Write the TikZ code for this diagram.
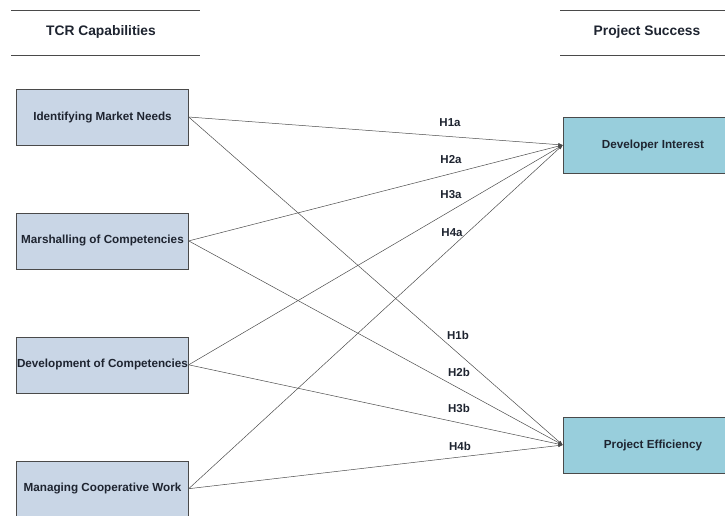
\documentclass[tikz,border=0pt]{standalone}
\usepackage{fontspec}
\setmainfont{Liberation Sans}
\usetikzlibrary{arrows.meta,positioning}
\definecolor{tcrFill}{HTML}{C9D6E6}
\definecolor{psFill}{HTML}{98CEDC}
\definecolor{tcrLine}{HTML}{4A4A4A}
\definecolor{tcrText}{HTML}{1E2430}

\begin{document}
\begin{tikzpicture}[x=1pt, y=-1pt, node distance=67.5pt,
  capbox/.style={draw=tcrLine, fill=tcrFill, minimum width=172pt, minimum height=56pt, inner sep=0pt, text=tcrText, font=\bfseries\fontsize{11.7}{14}\selectfont},
  outbox/.style={capbox, fill=psFill, minimum width=180pt},
  head/.style={text=tcrText, font=\bfseries\fontsize{13.8}{16}\selectfont},
  hyp/.style={text=tcrText, font=\bfseries\fontsize{11.5}{13}\selectfont},
  rule/.style={draw=tcrLine, line width=0.6pt},
  arr/.style={-{Latex[length=4.5pt, width=3.5pt]}, line width=0.5pt, color=black!70}
]
  \useasboundingbox (0,0) rectangle (725,515);
  \clip (0,0) rectangle (725,515);

  % headings
  \node[head] (tcr) at (101,32) {TCR Capabilities};
  \node[head] (ps) at (647,32) {Project Success};
  \path[rule] (11,10) -- (200,10) (11,55) -- (200,55);
  \path[rule] (560,10) -- (725,10) (560,55) -- (725,55);

  % capabilities
  \node[capbox] (imn) at (102.5,117) {Identifying Market Needs};
  \node[capbox, below=of imn] (moc) {Marshalling of Competencies};
  \node[capbox, below=of moc] (doc) {Development of Competencies};
  \node[capbox, below=of doc] (mcw) {Managing Cooperative Work};

  % outcomes
  \node[outbox] (dev) at (653,145) {Developer Interest};
  \node[outbox] (eff) at (653,445) {Project Efficiency};

  % paths
  \draw[arr] (imn.east) -- (dev.west);
  \draw[arr] (moc.east) -- (dev.west);
  \draw[arr] (doc.east) -- (dev.west);
  \draw[arr] (mcw.east) -- (dev.west);
  \draw[arr] (imn.east) -- (eff.west);
  \draw[arr] (moc.east) -- (eff.west);
  \draw[arr] (doc.east) -- (eff.west);
  \draw[arr] (mcw.east) -- (eff.west);

  % hypotheses
  \node[hyp] (h1a) at (450,123) {H1a};
  \node[hyp] (h2a) at (451,160) {H2a};
  \node[hyp] (h3a) at (451,195) {H3a};
  \node[hyp] (h4a) at (452,233) {H4a};
  \node[hyp] (h1b) at (458,335) {H1b};
  \node[hyp] (h2b) at (459,372) {H2b};
  \node[hyp] (h3b) at (459,408) {H3b};
  \node[hyp] (h4b) at (460,446) {H4b};
\end{tikzpicture}
\end{document}
